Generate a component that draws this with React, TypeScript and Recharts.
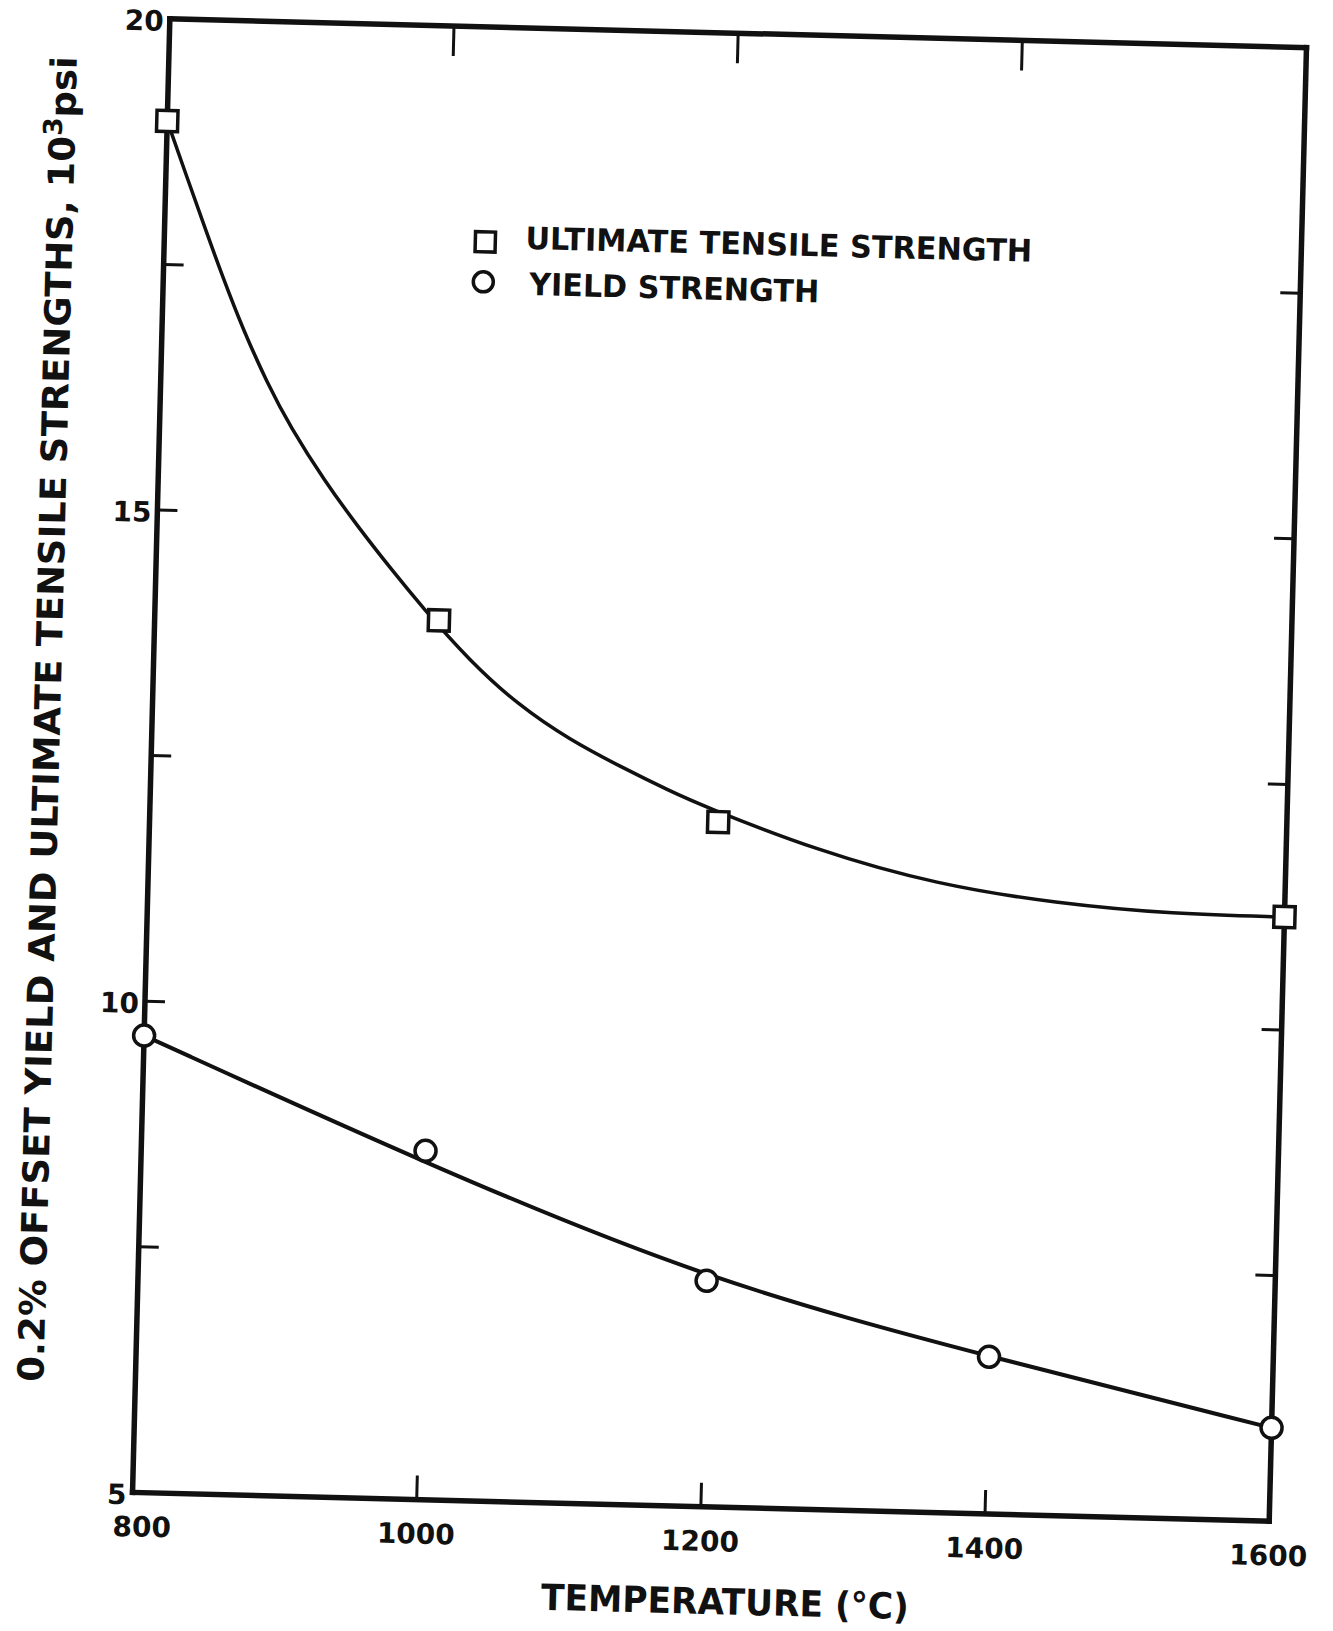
import React from "react"
import { ComposedChart, Line, Scatter, XAxis, YAxis, Legend } from "recharts"

// measured points (temperature in °C, strength in 10^3 psi)
const utsTemps = [800, 1000, 1200, 1600]
const utsValues = [18.96, 13.95, 11.97, 11.15]
const ysTemps = [800, 1000, 1200, 1400, 1600]
const ysValues = [9.65, 8.55, 7.3, 6.6, 5.95]

// faired curves
const utsCurveTemps = [
  800, 816, 829, 842, 857, 875, 892, 917, 942, 966, 988, 1022, 1058, 1094, 1130, 1166, 1189, 1271, 1355, 1439, 1522, 1600,
]
const utsCurveValues = [
  18.96, 18.35, 17.86, 17.38, 16.86, 16.32, 15.88, 15.34, 14.87, 14.45, 14.08, 13.55, 13.1, 12.77, 12.51, 12.27, 12.13,
  11.7, 11.39, 11.23, 11.15, 11.15,
]
const ysCurveTemps = [800, 1000, 1200, 1400, 1600]
const ysCurveValues = [9.65, 8.42, 7.3, 6.6, 5.95]

const tempTicks = [800, 1000, 1200, 1400, 1600]
const topTempTicks = [1000, 1200, 1400]
const strengthTicks = [5, 7.5, 10, 12.5, 15, 17.5, 20]
const strengthLabels = [5, 10, 15, 20]

const legendNames = ["ULTIMATE TENSILE STRENGTH", "YIELD STRENGTH"]

const zip = (ts: number[], vs: number[]) => ts.map((t, i) => ({ t, s: vs[i] }))
const utsPoints = zip(utsTemps, utsValues)
const ysPoints = zip(ysTemps, ysValues)
const utsCurve = zip(utsCurveTemps, utsCurveValues)
const ysCurve = zip(ysCurveTemps, ysCurveValues)

const ink = "#111"
const font = "'DejaVu Sans', Verdana, sans-serif"
const frame = { stroke: ink, strokeWidth: 5.5, strokeLinecap: "square" as const }

function BottomTick({ x, y, payload }: any) {
  const v = payload.value
  const nudge = v === 800 ? 10 : 0
  return (
    <g>
      {v > 800 && v < 1600 && <line x1={x} x2={x} y1={y} y2={y - 24} stroke={ink} strokeWidth={3} />}
      <text x={x + nudge} y={y + 44} textAnchor="middle" fontFamily={font} fontWeight={700} fontSize={28} fill={ink}>
        {v}
      </text>
    </g>
  )
}

function TopTick({ x, y }: any) {
  return <line x1={x} x2={x} y1={y} y2={y + 30} stroke={ink} strokeWidth={3} />
}

function LeftTick({ x, y, payload }: any) {
  const v = payload.value
  return (
    <g>
      {v > 5 && v < 20 && <line x1={x} x2={x + 20} y1={y} y2={y} stroke={ink} strokeWidth={3} />}
      {strengthLabels.includes(v) && (
        <text x={x - 6} y={y + 12} textAnchor="end" fontFamily={font} fontWeight={700} fontSize={28} fill={ink}>
          {v}
        </text>
      )}
    </g>
  )
}

function RightTick({ x, y, payload }: any) {
  const v = payload.value
  if (v <= 5 || v >= 20) return <g />
  return <line x1={x} x2={x - 20} y1={y} y2={y} stroke={ink} strokeWidth={3} />
}

function SquareMark({ cx, cy }: any) {
  return <rect x={cx - 10.5} y={cy - 10.5} width={21} height={21} fill="#fff" stroke={ink} strokeWidth={3.5} />
}

function CircleMark({ cx, cy }: any) {
  return <circle cx={cx} cy={cy} r={10.5} fill="#fff" stroke={ink} strokeWidth={3.5} />
}

function LegendBox() {
  const txt = { fontFamily: font, fontWeight: 700, fontSize: 31, fill: ink }
  return (
    <svg width={620} height={110} style={{ display: "block", overflow: "visible" }}>
      <rect x={22} y={28} width={20} height={20} fill="#fff" stroke={ink} strokeWidth={3.5} />
      <text x={72} y={44} textLength={507} lengthAdjust="spacingAndGlyphs" {...txt}>
        {legendNames[0]}
      </text>
      <circle cx={31} cy={78} r={10} fill="#fff" stroke={ink} strokeWidth={3.5} />
      <text x={77} y={90} textLength={290} lengthAdjust="spacingAndGlyphs" {...txt}>
        {legendNames[1]}
      </text>
    </svg>
  )
}

function XTitle() {
  return (
    <text
      x={746}
      y={1614}
      textAnchor="middle"
      textLength={368}
      lengthAdjust="spacingAndGlyphs"
      fontFamily={font}
      fontWeight={700}
      fontSize={36}
      fill={ink}
    >
      TEMPERATURE (°C)
    </text>
  )
}

function YTitle() {
  return (
    <text
      x={59}
      y={736}
      transform="rotate(-90 59 736)"
      textAnchor="middle"
      textLength={1326}
      lengthAdjust="spacingAndGlyphs"
      fontFamily={font}
      fontWeight={700}
      fontSize={36}
      fill={ink}
    >
      0.2% OFFSET YIELD AND ULTIMATE TENSILE STRENGTHS, 10
      <tspan dy={-13} fontSize={26}>3</tspan>
      <tspan dy={13}>psi</tspan>
    </text>
  )
}

export default function App() {
  return (
    <div
      style={{
        position: "absolute",
        left: 0,
        top: 0,
        width: 1333,
        height: 1631,
        background: "#fff",
        transform: "rotate(1.45deg)",
        transformOrigin: "719.5px 770.5px",
      }}
    >
      <ComposedChart width={1333} height={1631} margin={{ top: 13, right: 25, bottom: 64, left: 91 }}>
        <XAxis
          xAxisId="b"
          dataKey="t"
          type="number"
          orientation="bottom"
          domain={[800, 1600]}
          ticks={tempTicks}
          interval={0}
          height={60}
          tickSize={0}
          tickMargin={0}
          tickLine={false}
          axisLine={frame}
          tick={<BottomTick />}
          label={{ content: () => <XTitle /> }}
        />
        <XAxis
          xAxisId="t"
          dataKey="t"
          type="number"
          orientation="top"
          domain={[800, 1600]}
          ticks={topTempTicks}
          interval={0}
          height={20}
          tickSize={0}
          tickMargin={0}
          tickLine={false}
          axisLine={frame}
          tick={<TopTick />}
          allowDataOverflow
        />
        <YAxis
          yAxisId="l"
          dataKey="s"
          type="number"
          domain={[5, 20]}
          ticks={strengthTicks}
          interval={0}
          width={60}
          tickSize={0}
          tickMargin={0}
          tickLine={false}
          axisLine={frame}
          tick={<LeftTick />}
          label={{ content: () => <YTitle /> }}
        />
        <YAxis
          yAxisId="r"
          type="number"
          orientation="right"
          domain={[5, 20]}
          ticks={strengthTicks}
          interval={0}
          width={20}
          tickSize={0}
          tickMargin={0}
          tickLine={false}
          axisLine={frame}
          tick={<RightTick />}
          allowDataOverflow
        />
        <Line
          xAxisId="b"
          yAxisId="l"
          data={utsCurve}
          dataKey="s"
          type="basis"
          stroke={ink}
          strokeWidth={3.5}
          dot={false}
          activeDot={false}
          isAnimationActive={false}
          legendType="none"
        />
        <Line
          xAxisId="b"
          yAxisId="l"
          data={ysCurve}
          dataKey="s"
          type="basis"
          stroke={ink}
          strokeWidth={4}
          dot={false}
          activeDot={false}
          isAnimationActive={false}
          legendType="none"
        />
        <Scatter xAxisId="b" yAxisId="l" data={utsPoints} dataKey="s" shape={<SquareMark />} isAnimationActive={false} />
        <Scatter xAxisId="b" yAxisId="l" data={ysPoints} dataKey="s" shape={<CircleMark />} isAnimationActive={false} />
        <Legend
          content={<LegendBox />}
          layout="horizontal"
          verticalAlign="middle"
          align="center"
          wrapperStyle={{ left: 440, top: 210, width: 620, height: 110 }}
        />
      </ComposedChart>
    </div>
  )
}
